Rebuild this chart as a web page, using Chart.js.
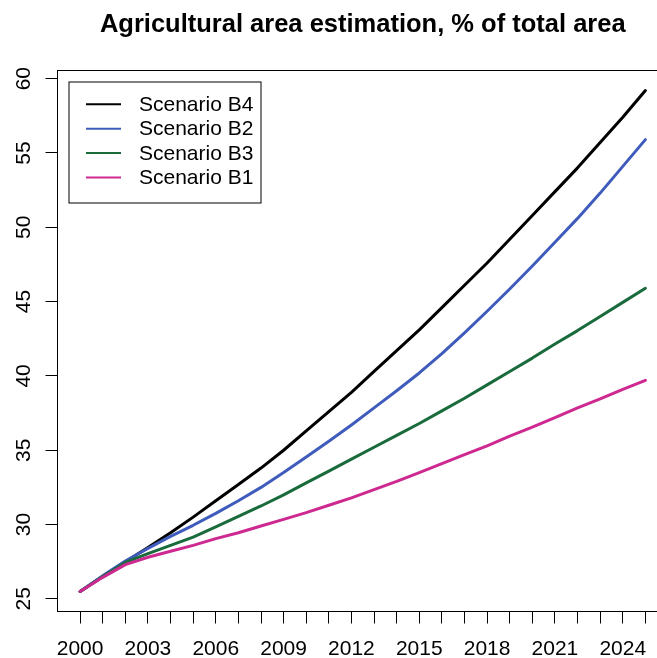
<!DOCTYPE html>
<html>
<head>
<meta charset="utf-8">
<title>Agricultural area estimation</title>
<script src="https://cdn.jsdelivr.net/npm/chart.js@4/dist/chart.umd.min.js"></script>
<style>
  html, body { margin: 0; padding: 0; background: #fff; overflow: hidden; }
  canvas { display: block; background: #fff; }
</style>
</head>
<body>
<canvas id="chart" width="680" height="658"></canvas>
<script>
// Years covered by the projection
const years = [2000, 2001, 2002, 2003, 2004, 2005, 2006, 2007, 2008, 2009, 2010, 2011, 2012,
               2013, 2014, 2015, 2016, 2017, 2018, 2019, 2020, 2021, 2022, 2023, 2024, 2025];

// Agricultural area, % of total area, per scenario
const scenarioB4 = [25.5, 26.5, 27.5, 28.45, 29.45, 30.5, 31.6, 32.7, 33.8, 35.0, 36.3, 37.6, 38.9,
                    40.3, 41.7, 43.1, 44.6, 46.1, 47.6, 49.2, 50.8, 52.4, 54.0, 55.7, 57.4, 59.2];
const scenarioB2 = [25.5, 26.55, 27.55, 28.4, 29.2, 29.95, 30.75, 31.6, 32.5, 33.5, 34.55, 35.6, 36.7,
                    37.85, 39.0, 40.2, 41.5, 42.9, 44.35, 45.85, 47.4, 49.0, 50.6, 52.3, 54.1, 55.9];
const scenarioB3 = [25.5, 26.5, 27.45, 28.05, 28.6, 29.15, 29.85, 30.55, 31.25, 32.0, 32.8, 33.6, 34.4,
                    35.2, 36.0, 36.8, 37.65, 38.5, 39.4, 40.3, 41.2, 42.15, 43.05, 44.0, 44.95, 45.9];
const scenarioB1 = [25.5, 26.45, 27.3, 27.8, 28.2, 28.6, 29.05, 29.45, 29.9, 30.35, 30.8, 31.3, 31.8,
                    32.35, 32.9, 33.5, 34.1, 34.7, 35.3, 35.95, 36.55, 37.2, 37.85, 38.45, 39.1, 39.7];

// Axis ticks: a tick mark every year, a label every third year
const xTickValues = years;
const xTickLabels = [2000, 2003, 2006, 2009, 2012, 2015, 2018, 2021, 2024];
const yTickValues = [25, 30, 35, 40, 45, 50, 55, 60];

const FONT = "'Liberation Sans', Arial, Helvetica, sans-serif";

function series(values) {
  return values.map((v, i) => ({ x: years[i], y: v }));
}

function lineSet(label, values, color, order) {
  return {
    label: label,
    data: series(values),
    borderColor: color,
    backgroundColor: color,
    borderWidth: 3,
    pointRadius: 0,
    tension: 0,
    fill: false,
    borderCapStyle: 'round',
    borderJoinStyle: 'round',
    order: order
  };
}

// Plot frame around the chart area
const framePlugin = {
  id: 'frame',
  beforeDatasetsDraw(chart) {
    const { ctx, chartArea: a } = chart;
    ctx.save();
    ctx.strokeStyle = '#000';
    ctx.lineWidth = 1;
    ctx.strokeRect(a.left, a.top, a.right - a.left, a.bottom - a.top);
    ctx.restore();
  }
};

// Boxed legend in the top-left corner of the plot
const boxLegendPlugin = {
  id: 'boxLegend',
  afterDraw(chart) {
    const { ctx, chartArea: a } = chart;
    const sets = chart.data.datasets;
    const boxLeft = a.left + 11.5, boxTop = a.top + 11.5;
    const boxW = 192, boxH = 121;
    const rowGap = 24.4, firstRow = boxTop + 22.3;
    ctx.save();
    ctx.fillStyle = '#fff';
    ctx.fillRect(boxLeft, boxTop, boxW, boxH);
    ctx.strokeStyle = '#000';
    ctx.lineWidth = 1;
    ctx.strokeRect(boxLeft, boxTop, boxW, boxH);
    ctx.font = '21px ' + FONT;
    ctx.textBaseline = 'middle';
    ctx.textAlign = 'left';
    sets.forEach((ds, i) => {
      const y = firstRow + i * rowGap;
      ctx.strokeStyle = ds.borderColor;
      ctx.lineWidth = 2;
      ctx.beginPath();
      ctx.moveTo(boxLeft + 17, y);
      ctx.lineTo(boxLeft + 52, y);
      ctx.stroke();
      ctx.fillStyle = '#000';
      ctx.fillText(ds.label, boxLeft + 70, y + 1);
    });
    ctx.restore();
  }
};

new Chart(document.getElementById('chart'), {
  type: 'line',
  data: {
    datasets: [
      lineSet('Scenario B4', scenarioB4, '#000000', 4),
      lineSet('Scenario B2', scenarioB2, '#3f5cbc', 3),
      lineSet('Scenario B3', scenarioB3, '#1a6b3c', 2),
      lineSet('Scenario B1', scenarioB1, '#cd2990', 1)
    ]
  },
  options: {
    responsive: false,
    animation: false,
    layout: { padding: { left: 0, right: 12, top: 0, bottom: 0 } },
    plugins: {
      legend: { display: false },
      tooltip: { enabled: false },
      title: {
        display: true,
        text: 'Agricultural area estimation, % of total area',
        fullSize: false,
        color: '#000',
        font: { family: FONT, size: 25.5, weight: 'bold', lineHeight: 1.2 },
        padding: { top: 9.2, bottom: 30.7 }
      }
    },
    scales: {
      x: {
        type: 'linear',
        min: 1999,
        max: 2026,
        afterBuildTicks: (scale) => { scale.ticks = xTickValues.map(v => ({ value: v })); },
        afterFit: (scale) => { scale.height = 46.5; },
        border: { display: false },
        grid: { display: true, drawOnChartArea: false, drawTicks: true, tickLength: 12, color: '#000', lineWidth: 1 },
        ticks: {
          autoSkip: false,
          maxRotation: 0,
          padding: 13.5,
          color: '#000',
          font: { family: FONT, size: 21 },
          callback: (v) => xTickLabels.includes(v) ? String(v) : ''
        }
      },
      y: {
        type: 'linear',
        min: 24.15,
        max: 60.55,
        afterBuildTicks: (scale) => { scale.ticks = yTickValues.map(v => ({ value: v })); },
        afterFit: (scale) => { scale.width = 57.5; },
        border: { display: false },
        grid: { display: true, drawOnChartArea: false, drawTicks: true, tickLength: 12, color: '#000', lineWidth: 1 },
        ticks: {
          minRotation: 90,
          maxRotation: 90,
          crossAlign: 'center',
          padding: 9.6,
          color: '#000',
          font: { family: FONT, size: 21 },
          callback: (v) => String(v)
        }
      }
    }
  },
  plugins: [framePlugin, boxLegendPlugin]
});
</script>
</body>
</html>
